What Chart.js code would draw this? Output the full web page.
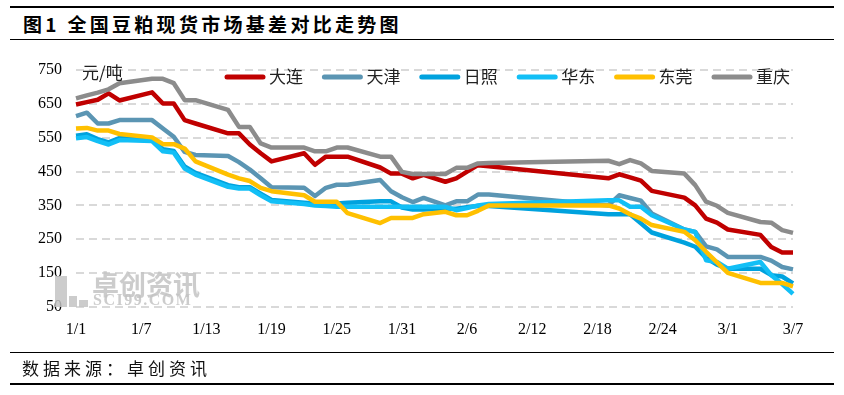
<!DOCTYPE html>
<html>
<head>
<meta charset="utf-8">
<title>全国豆粕现货市场基差对比走势图</title>
<script src="https://cdn.jsdelivr.net/npm/chart.js@4.4.1/dist/chart.umd.min.js"></script>
<style>
  html, body { margin: 0; padding: 0; background: #fff; }
  #wrap { position: relative; width: 844px; height: 395px; overflow: hidden; }
  #wrap canvas { position: absolute; left: 0; top: 0; }
  .rule { position: absolute; left: 10px; width: 824px; background: #000; }
  #title { position: absolute; left: 23px; top: 10px; line-height: 28px; font: bold 19px "Noto Sans CJK SC"; letter-spacing: 3.3px; color: #000; }
  #source { position: absolute; left: 22px; top: 355px; line-height: 24px; font: 17px "Noto Sans CJK SC"; letter-spacing: 4px; color: #111; }
</style>
</head>
<body>
<div id="wrap">
  <div class="rule" style="top:6px;height:2px"></div>
  <div id="title">图1 全国豆粕现货市场基差对比走势图</div>
  <div class="rule" style="top:39px;height:1px"></div>
  <canvas id="chart" width="844" height="395"></canvas>
  <div class="rule" style="top:352px;height:1px"></div>
  <div id="source">数据来源：卓创资讯</div>
  <div class="rule" style="top:383px;height:2px"></div>
</div>
<script>
// calendar axis 1/1 .. 3/7 (ticks every 6 days)
const dates = [
  '1/1','1/2','1/3','1/4','1/5','1/6','1/7','1/8','1/9','1/10','1/11','1/12','1/13','1/14','1/15','1/16',
  '1/17','1/18','1/19','1/20','1/21','1/22','1/23','1/24','1/25','1/26','1/27','1/28','1/29','1/30','1/31',
  '2/1','2/2','2/3','2/4','2/5','2/6','2/7','2/8','2/9','2/10','2/11','2/12','2/13','2/14','2/15','2/16',
  '2/17','2/18','2/19','2/20','2/21','2/22','2/23','2/24','2/25','2/26','2/27','2/28','2/29',
  '3/1','3/2','3/3','3/4','3/5','3/6','3/7'
];

// days with quotes
const tradeDays = [
  '1/1','1/2','1/3','1/4','1/5','1/8','1/9','1/10','1/11','1/12','1/15','1/16','1/17','1/18','1/19',
  '1/22','1/23','1/24','1/25','1/26','1/29','1/30','1/31','2/1','2/2','2/4','2/5','2/6','2/7','2/8',
  '2/19','2/20','2/21','2/22','2/23','2/26','2/27','2/28','2/29','3/1','3/4','3/5','3/6','3/7'
];

const dalian = [648,655,662,681,660,684,651,651,602,592,563,563,530,504,480,
  504,470,494,494,494,462,444,444,430,440,420,430,450,469,466,
  430,442,433,423,393,373,350,311,299,279,263,227,211,211];
const tianjin = [614,624,592,592,602,602,577,553,508,499,496,478,456,430,404,
  402,378,402,411,411,425,392,374,360,372,350,362,362,382,382,
  350,380,372,364,326,279,272,229,220,198,198,187,168,161];
const rizhao = [556,560,546,536,549,546,516,511,465,446,410,404,404,385,366,
  358,356,356,356,358,362,362,344,338,338,340,340,345,348,348,
  324,324,324,297,270,240,228,195,175,163,163,144,140,120];
const huadong = [548,552,540,530,543,540,510,506,459,441,405,400,400,380,362,
  354,350,348,346,346,346,346,346,346,346,346,336,342,350,354,
  365,365,346,346,321,279,272,188,183,163,183,144,118,89];
const dongguan = [577,579,571,571,561,551,531,531,518,480,441,430,422,402,392,
  380,361,361,361,327,298,313,313,313,324,331,321,321,334,350,
  350,341,324,311,292,272,247,213,182,151,121,121,121,111];
const chongqing = [666,675,683,693,711,724,724,711,661,661,632,582,582,533,521,
  521,510,510,521,521,494,494,449,443,443,443,461,461,474,475,
  482,472,484,474,452,444,410,361,349,328,301,299,277,269];

const names = ['大连', '天津', '日照', '华东', '东莞', '重庆'];
const colors = ['#C00000', '#5B95B3', '#00A2DE', '#12BFF6', '#FFC000', '#8C8C8C'];
const values = [dalian, tianjin, rizhao, huadong, dongguan, chongqing];

const yTicks = [50, 150, 250, 350, 450, 550, 650, 750];

// legend + unit label drawn inside the plot, like the Excel original
const overlay = {
  id: 'overlay',
  beforeDatasetsDraw(chart) {
    const c = chart.ctx;
    c.save();
    // faint watermark
    c.fillStyle = 'rgba(195,195,195,0.85)';
    c.fillRect(55, 276, 12, 31);
    c.fillRect(69, 296, 8, 11);
    c.fillRect(79, 300, 9, 7);
    c.textBaseline = 'middle';
    c.font = 'bold 27px "Noto Sans CJK SC"';
    c.fillText('卓创资讯', 92, 285);
    c.font = 'bold 16px "Liberation Serif"';
    c.letterSpacing = '1.5px';
    c.fillText('SCI99.COM', 93, 301);
    c.restore();
  },
  afterDraw(chart) {
    const c = chart.ctx;
    c.save();
    c.textBaseline = 'middle';
    c.font = '17px "Noto Sans CJK SC"';
    c.fillStyle = '#222';
    c.fillText('元/吨', 82, 73);
    chart.data.datasets.forEach((ds, i) => {
      const x0 = 225 + i * 97.4;
      c.strokeStyle = ds.borderColor;
      c.lineWidth = 5;
      c.lineCap = 'round';
      c.beginPath();
      c.moveTo(x0 + 2, 77);
      c.lineTo(x0 + 38, 77);
      c.stroke();
      c.fillStyle = '#222';
      c.fillText(ds.label, x0 + 44, 77);
    });
    c.restore();
  }
};

const ctx = document.getElementById('chart').getContext('2d');
new Chart(ctx, {
  type: 'line',
  data: {
    labels: dates,
    datasets: names.map((name, i) => ({
      label: name,
      data: tradeDays.map((d, j) => ({ x: d, y: values[i][j] })),
      borderColor: colors[i],
      backgroundColor: colors[i],
      borderWidth: 4.5,
      borderJoinStyle: 'round',
      pointRadius: 0,
      tension: 0,
      order: names.length - i  // later series on top
    }))
  },
  options: {
    responsive: false,
    animation: false,
    devicePixelRatio: 1,
    layout: { padding: { left: 0, right: 51, top: 70, bottom: 0 } },
    plugins: {
      legend: { display: false },
      tooltip: { enabled: false }
    },
    scales: {
      x: {
        type: 'category',
        offset: false,
        grid: { display: false },
        border: { display: false },
        ticks: {
          autoSkip: false,
          maxRotation: 0,
          padding: 5,
          color: '#000',
          font: { family: 'Liberation Serif', size: 16 },
          callback: (v, i) => (i % 6 === 0 ? dates[i] : '')
        },
        afterFit: (s) => { s.height = 88; }
      },
      y: {
        min: 50,
        max: 750,
        afterBuildTicks: (s) => { s.ticks = yTicks.map((v) => ({ value: v })); },
        grid: { color: '#D9D9D9', lineWidth: 2, drawTicks: false },
        border: { display: false, dash: [8, 5] },
        ticks: {
          padding: 14,
          color: '#000',
          font: { family: 'Liberation Serif', size: 16 }
        },
        afterFit: (s) => { s.width = 76; }
      }
    }
  },
  plugins: [overlay]
});
</script>
</body>
</html>
